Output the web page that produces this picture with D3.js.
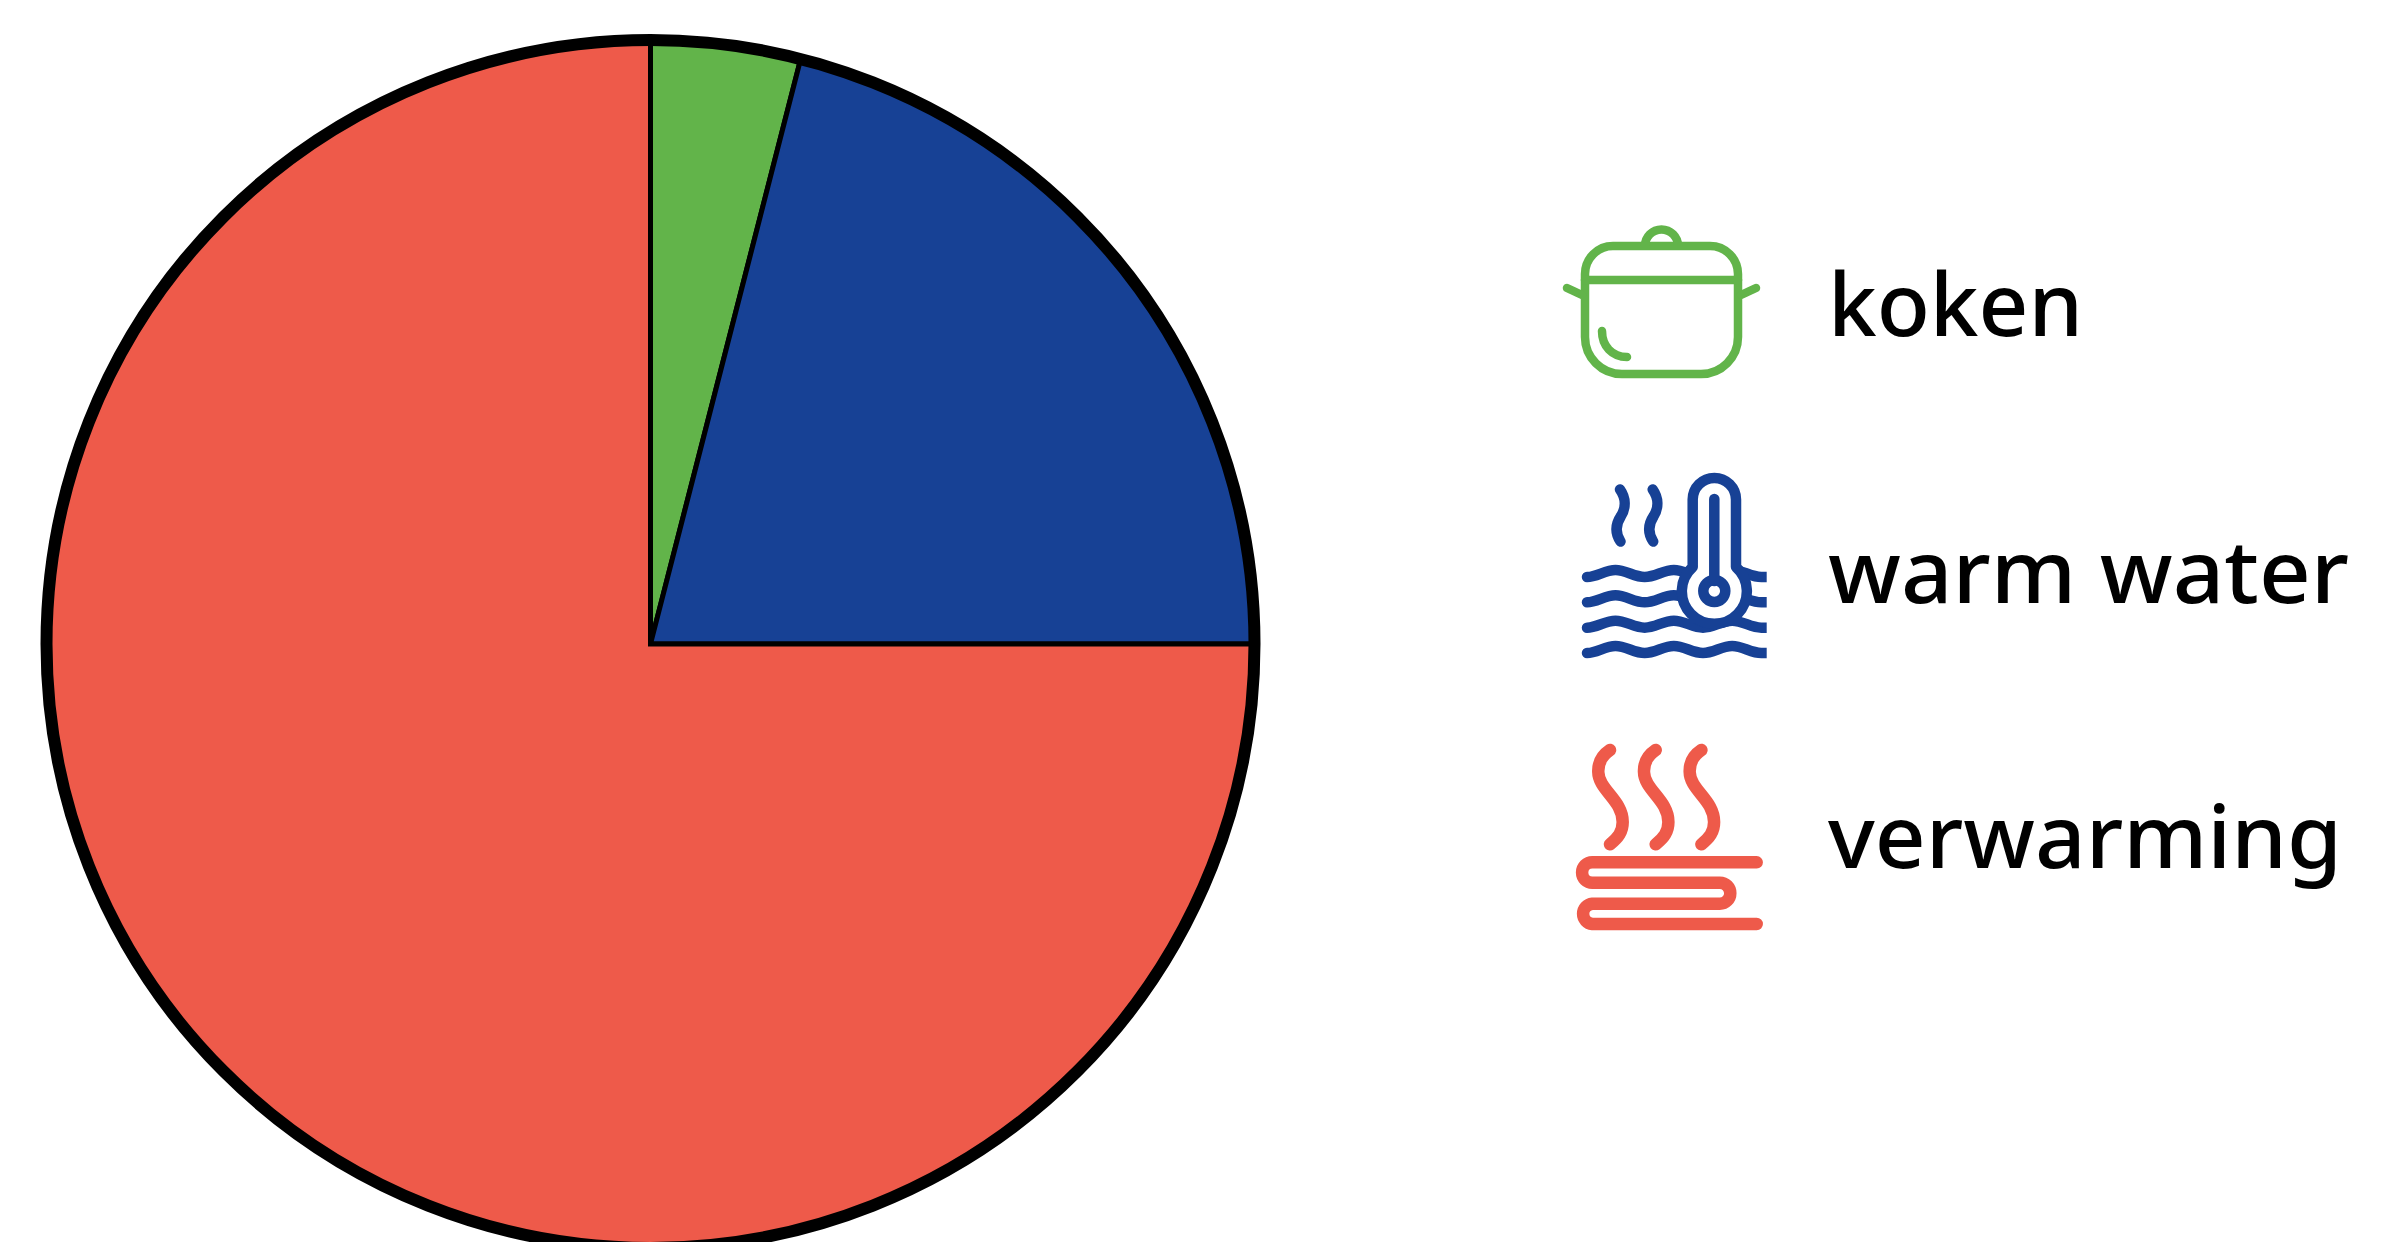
<!DOCTYPE html>
<html lang="nl">
<head>
<meta charset="utf-8">
<title>Energiegebruik</title>
<script src="https://cdn.jsdelivr.net/npm/d3@7/dist/d3.min.js"></script>
<style>
  html, body { margin: 0; padding: 0; background: #fff; overflow: hidden; }
  svg { display: block; }
</style>
</head>
<body>
<svg id="chart" width="2383" height="1242"></svg>
<script>
// Share of household energy use per purpose, in percent
const categories = ["koken", "warm water", "verwarming"];
const shares = [4, 21, 75];
const colours = ["#62b44a", "#174195", "#ee5a4a"];
const labelBaselines = [336, 603, 868];
const labelStarts = [1828, 1828, 1828];
const labelWidths = [255, 521, 514];

const svg = d3.select("#chart");
const centre = [650.5, 644];
const radius = 604;

const pie = d3.pie().sort(null).value(d => d.share);
const arc = d3.arc().innerRadius(0).outerRadius(radius);
const rows = categories.map((name, i) => ({ name, share: shares[i], colour: colours[i] }));

const pieGroup = svg.append("g").attr("transform", `translate(${centre})`);

pieGroup.selectAll("path.slice")
  .data(pie(rows))
  .join("path")
  .attr("class", "slice")
  .attr("d", arc)
  .attr("fill", d => d.data.colour)
  .attr("stroke", "#000")
  .attr("stroke-width", 5)
  .attr("stroke-linejoin", "miter");

pieGroup.append("circle")
  .attr("r", radius)
  .attr("fill", "none")
  .attr("stroke", "#000")
  .attr("stroke-width", 12);

// Legend icons, outlined with rounded strokes
function strokeGroup(colour, width) {
  return svg.append("g")
    .attr("fill", "none")
    .attr("stroke", colour)
    .attr("stroke-width", width)
    .attr("stroke-linecap", "round")
    .attr("stroke-linejoin", "round");
}

function drawPot(colour) {
  const g = strokeGroup(colour, 8.5);
  // body with lid
  g.append("path").attr("d",
    "M1585,280 V274 A28,28 0 0 1 1613,246 H1710 A28,28 0 0 1 1738,274 V337 A37,37 0 0 1 1701,374 H1622 A37,37 0 0 1 1585,337 Z");
  g.append("path").attr("d", "M1585,280 H1738");
  // knob
  g.append("path").attr("d", "M1645,246 A16.5,16.5 0 0 1 1678,246").attr("stroke-linecap", "butt");
  // handles
  g.append("path").attr("d", "M1567,288 L1582,295");
  g.append("path").attr("d", "M1756,288 L1741,295");
  // glint
  g.append("path").attr("d", "M1602,331 C1602,346 1612,357 1627,357");
}

// One ripple line: troughs sit on y, crests a little above it
function wavePath(y) {
  const p = d3.path();
  const h = 29.17;
  const amp = 7;
  let x = 1587;
  p.moveTo(x, y);
  p.bezierCurveTo(x + 10, y, x + 18, y - amp, x + 28.5, y - amp);
  x += 28.5;
  for (let i = 0, down = true; i < 5; i++, down = !down) {
    const from = down ? y - amp : y;
    const to = down ? y : y - amp;
    p.bezierCurveTo(x + h * 0.364, from, x + h * 0.636, to, x + h, to);
    x += h;
  }
  p.lineTo(1772, y);
  return p.toString();
}

function drawThermometerWaves(colour) {
  svg.append("clipPath").attr("id", "waveClip")
    .append("rect").attr("x", 1570).attr("y", 560).attr("width", 196.7).attr("height", 110);

  const waves = strokeGroup(colour, 10.5).attr("clip-path", "url(#waveClip)");
  [577, 602.3, 627.7, 653].forEach(y => waves.append("path").attr("d", wavePath(y)));

  // tube and bulb sit on top of the water lines
  const g = strokeGroup(colour, 10.5);
  g.append("path")
    .attr("fill", "#fff")
    .attr("d", "M1692.7,567 V499.6 A21.65,21.65 0 0 1 1736,499.6 V567 A32.5,32.5 0 1 1 1692.7,567");
  g.append("circle").attr("cx", 1714.3).attr("cy", 591).attr("r", 11);
  g.append("path").attr("d", "M1714.3,499 V581");

  // steam
  const steam = strokeGroup(colour, 10.5);
  [0, 32.7].forEach(dx => steam.append("path")
    .attr("transform", `translate(${dx},0)`)
    .attr("d", "M1620,489.5 C1626,498 1626,508 1621,516 C1615,525 1615,533 1620.5,541.5"));
}

function drawHeatingCoil(colour) {
  const g = strokeGroup(colour, 12.5);
  g.append("path").attr("d",
    "M1756.7,862.3 H1592.3 A10.2,10.2 0 0 0 1592.3,882.7 H1719.8 A10.5,10.5 0 0 1 1719.8,903.7 H1592.3 A10.2,10.2 0 0 0 1592.3,924 H1756.7");
  [0, 45.7, 91.4].forEach(dx => g.append("path")
    .attr("transform", `translate(${dx},0)`)
    .attr("d", "M1610,750 C1601,756 1598,764 1598.3,772 C1598.5,790 1622.7,800 1622.7,822 C1622.7,832 1618,838 1610,844.3"));
}

const iconDrawers = [drawPot, drawThermometerWaves, drawHeatingCoil];
iconDrawers.forEach((draw, i) => draw(colours[i]));

// Legend labels
svg.append("g")
  .attr("font-family", "'Noto Sans', 'Open Sans', sans-serif")
  .attr("font-size", 87)
  .attr("font-weight", 500)
  .attr("fill", "#000")
  .selectAll("text")
  .data(categories)
  .join("text")
  .attr("x", (d, i) => labelStarts[i])
  .attr("y", (d, i) => labelBaselines[i])
  .attr("textLength", (d, i) => labelWidths[i])
  .attr("lengthAdjust", "spacingAndGlyphs")
  .text(d => d);
</script>
</body>
</html>
